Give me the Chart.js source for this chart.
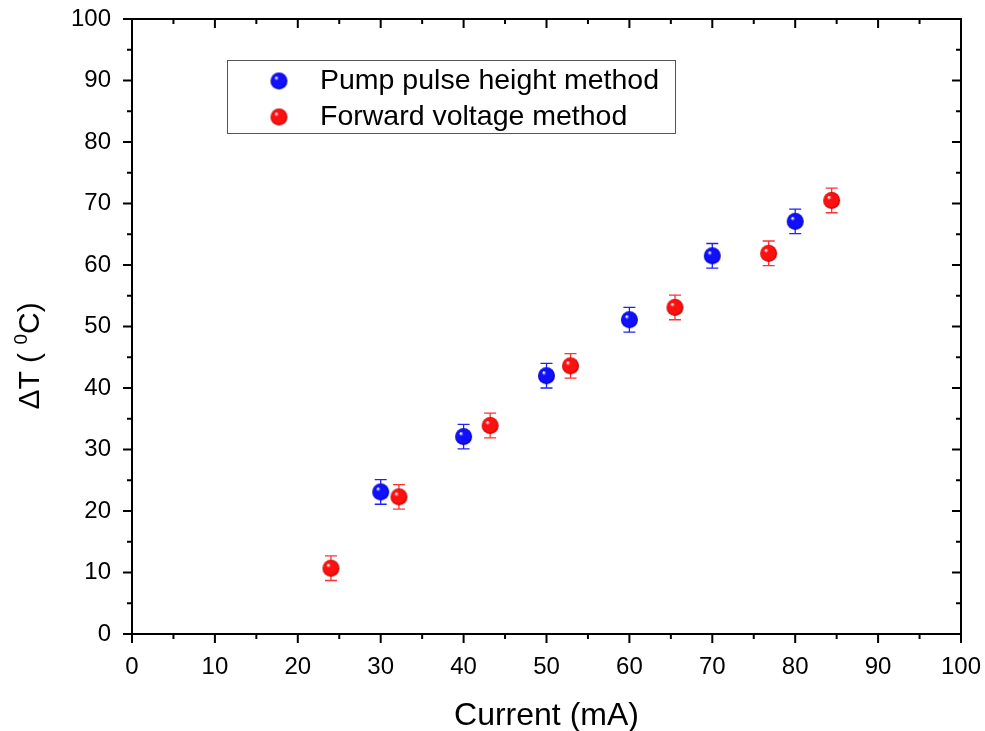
<!DOCTYPE html>
<html>
<head>
<meta charset="utf-8">
<script src="https://cdn.jsdelivr.net/npm/chart.js@4.4.1/dist/chart.umd.min.js"></script>
<style>
  html, body { margin: 0; padding: 0; background: #fff; }
  #wrap { width: 985px; height: 731px; position: relative; }
</style>
</head>
<body>
<div id="wrap"><canvas id="c" width="985" height="731"></canvas></div>
<script>
// data
const pumpCurrent = [30, 40, 50, 60, 70, 80];
const pumpDeltaT  = [23.1, 32.1, 42.0, 51.1, 61.5, 67.1];
const pumpErr     = [2, 2, 2, 2, 2, 2];

const fwdCurrent = [24.0, 32.2, 43.2, 52.9, 65.5, 76.8, 84.4];
const fwdDeltaT  = [10.7, 22.3, 33.9, 43.6, 53.1, 61.9, 70.5];
const fwdErr     = [2, 2, 2, 2, 2, 2, 2];

const xTicks = [0, 10, 20, 30, 40, 50, 60, 70, 80, 90, 100];
const yTicks = [0, 10, 20, 30, 40, 50, 60, 70, 80, 90, 100];

const FONT = "'Liberation Sans', Arial, sans-serif";

// shaded ball marker, like the Origin sphere symbol
function makeBall(base, dark, r) {
    const c = document.createElement('canvas');
    c.width = c.height = r * 2 + 2;
    const g = c.getContext('2d');
    const cx = r + 1, cy = r + 1;
    const grad = g.createRadialGradient(cx - r * 0.35, cy - r * 0.4, r * 0.05, cx, cy, r);
    grad.addColorStop(0, '#ffffff');
    grad.addColorStop(0.22, base);
    grad.addColorStop(0.8, base);
    grad.addColorStop(1, dark);
    g.fillStyle = grad;
    g.beginPath();
    g.arc(cx, cy, r, 0, Math.PI * 2);
    g.fill();
    return c;
}
const blueBall = makeBall('#1010ff', '#0000a0', 8.5);
const redBall = makeBall('#ff1010', '#b00000', 8.5);

function toPoints(xs, ys) {
    return xs.map((x, i) => ({ x: x, y: ys[i] }));
}

// error bars with caps
const errorBars = {
    id: 'errorBars',
    beforeDatasetsDraw(chart) {
        const ctx = chart.ctx;
        const xs = chart.scales.x, ys = chart.scales.y;
        chart.data.datasets.forEach(ds => {
            ctx.save();
            ctx.strokeStyle = ds.errColor;
            ctx.lineWidth = 1.3;
            ds.data.forEach((p, i) => {
                const px = xs.getPixelForValue(p.x);
                const top = ys.getPixelForValue(p.y + ds.err[i]);
                const bot = ys.getPixelForValue(p.y - ds.err[i]);
                ctx.beginPath();
                ctx.moveTo(px, top); ctx.lineTo(px, bot);
                ctx.moveTo(px - 6, top); ctx.lineTo(px + 6, top);
                ctx.moveTo(px - 6, bot); ctx.lineTo(px + 6, bot);
                ctx.stroke();
            });
            ctx.restore();
        });
    }
};

// frame with ticks: outward on left/bottom, inward on top/right, minor every 5
const frame = {
    id: 'frame',
    afterDraw(chart) {
        const ctx = chart.ctx;
        const a = chart.chartArea;
        const xs = chart.scales.x, ys = chart.scales.y;
        ctx.save();
        ctx.strokeStyle = '#000';
        ctx.lineWidth = 2;
        ctx.strokeRect(a.left, a.top, a.right - a.left, a.bottom - a.top);
        ctx.beginPath();
        for (let v = 0; v <= 100; v += 5) {
            const len = v % 10 === 0 ? 9 : 5;
            const px = xs.getPixelForValue(v);
            ctx.moveTo(px, a.bottom); ctx.lineTo(px, a.bottom + len);
            ctx.moveTo(px, a.top); ctx.lineTo(px, a.top + len);
            const py = ys.getPixelForValue(v);
            ctx.moveTo(a.left, py); ctx.lineTo(a.left - len, py);
            ctx.moveTo(a.right, py); ctx.lineTo(a.right - len, py);
        }
        ctx.stroke();

        // axis titles
        ctx.fillStyle = '#000';
        ctx.textBaseline = 'middle';
        ctx.textAlign = 'center';
        ctx.font = '32px ' + FONT;
        ctx.fillText('Current (mA)', (a.left + a.right) / 2, 716);

        ctx.save();
        ctx.translate(31, 356);
        ctx.rotate(-Math.PI / 2);
        ctx.textAlign = 'left';
        const p1 = 'ΔT ( ', p2 = '0', p3 = 'C)';
        ctx.font = '30px ' + FONT;
        const w1 = ctx.measureText(p1).width, w3 = ctx.measureText(p3).width;
        ctx.font = '19px ' + FONT;
        const w2 = ctx.measureText(p2).width;
        let x0 = -(w1 + w2 + w3) / 2;
        ctx.font = '30px ' + FONT;
        ctx.fillText(p1, x0, 0);
        ctx.font = '19px ' + FONT;
        ctx.fillText(p2, x0 + w1, -9);
        ctx.font = '30px ' + FONT;
        ctx.fillText(p3, x0 + w1 + w2, 0);
        ctx.restore();

        // legend box
        const bx = 227, by = 60, bw = 448, bh = 73;
        ctx.fillStyle = '#fff';
        ctx.fillRect(bx, by, bw, bh);
        ctx.lineWidth = 1;
        ctx.strokeStyle = '#555';
        ctx.strokeRect(bx + 0.5, by + 0.5, bw, bh);
        ctx.font = '28.5px ' + FONT;
        ctx.fillStyle = '#000';
        ctx.textAlign = 'left';
        chart.data.datasets.forEach((ds, i) => {
            const cy = by + 21 + i * 36;
            ctx.drawImage(ds.pointStyle, 279 - 9.5, cy - 9.5);
            ctx.fillText(ds.label, 320, cy);
        });
        ctx.restore();
    }
};

function noPad(s) {
    s.paddingLeft = 0; s.paddingRight = 0;
    s.paddingTop = 0; s.paddingBottom = 0;
}

new Chart(document.getElementById('c'), {
    type: 'scatter',
    data: {
        datasets: [
            {
                label: 'Pump pulse height method',
                data: toPoints(pumpCurrent, pumpDeltaT),
                err: pumpErr,
                errColor: '#2020ff',
                pointStyle: blueBall,
                pointRadius: 8.5
            },
            {
                label: 'Forward voltage method',
                data: toPoints(fwdCurrent, fwdDeltaT),
                err: fwdErr,
                errColor: '#ff3030',
                pointStyle: redBall,
                pointRadius: 8.5
            }
        ]
    },
    options: {
        responsive: false,
        animation: false,
        layout: { padding: { top: 19, right: 24, left: 0, bottom: 0 } },
        plugins: {
            legend: { display: false },
            tooltip: { enabled: false }
        },
        scales: {
            x: {
                type: 'linear',
                min: 0, max: 100,
                afterBuildTicks: s => { s.ticks = xTicks.map(v => ({ value: v })); },
                afterFit: s => { s.height = 97; noPad(s); },
                grid: { display: false, drawTicks: false },
                border: { display: false },
                ticks: { padding: 19, maxRotation: 0, color: '#000', font: { family: FONT, size: 24 } }
            },
            y: {
                type: 'linear',
                min: 0, max: 100,
                afterBuildTicks: s => { s.ticks = yTicks.map(v => ({ value: v })); },
                afterFit: s => { s.width = 132; noPad(s); },
                grid: { display: false, drawTicks: false },
                border: { display: false },
                ticks: { padding: 21, color: '#000', font: { family: FONT, size: 24 } }
            }
        }
    },
    plugins: [errorBars, frame]
});
</script>
</body>
</html>
